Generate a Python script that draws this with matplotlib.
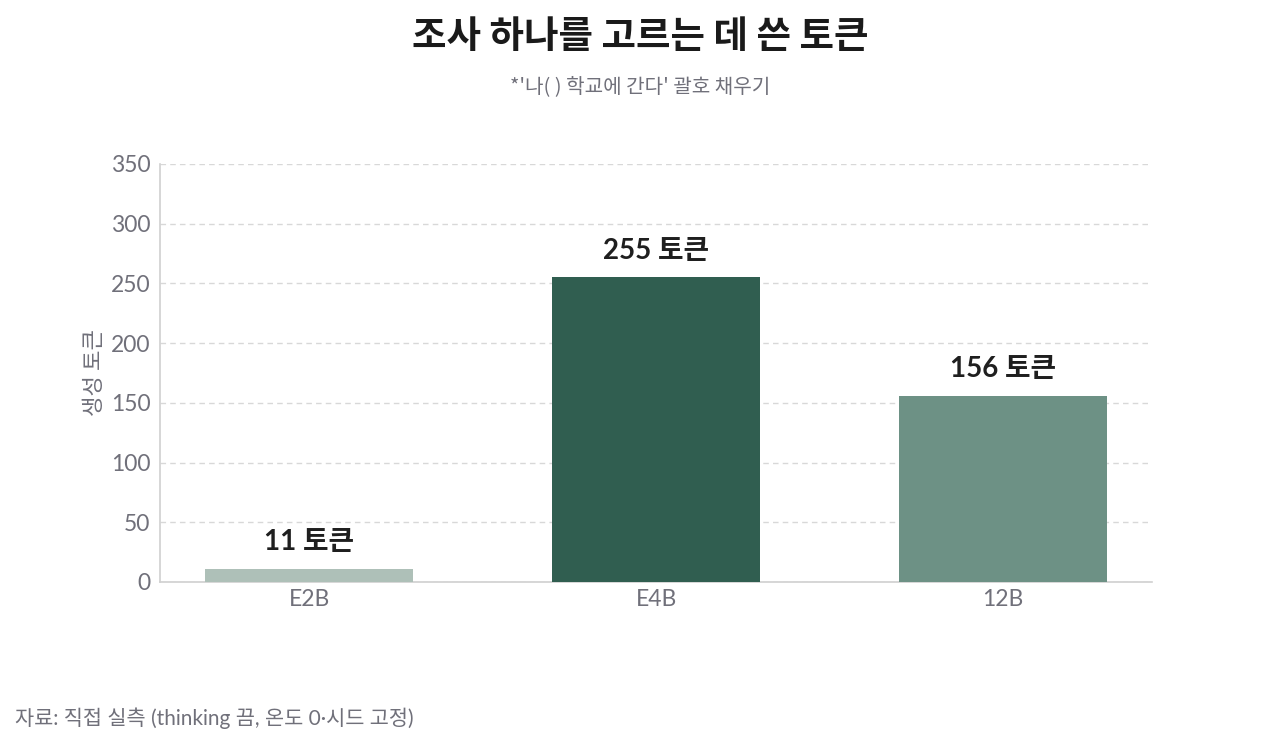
import matplotlib
matplotlib.use("Agg")
import matplotlib.pyplot as plt

plt.rcParams['font.family'] = ['Lato', 'Noto Sans CJK KR', 'DejaVu Sans']

categories = ["E2B", "E4B", "12B"]
tokens = [11, 255, 156]
bar_colors = ["#aec0b8", "#305e50", "#6d9185"]
yticks = [0, 50, 100, 150, 200, 250, 300, 350]

title = "조사 하나를 고르는 데 쓴 토큰"
subtitle = "*'나( ) 학교에 간다' 괄호 채우기"
ylabel = "생성 토큰"
source = "자료: 직접 실측 (thinking 끔, 온도 0·시드 고정)"

fig = plt.figure(figsize=(12.8, 7.47), dpi=100)
ax = fig.add_axes([0.125, 0.2209, 0.775, 0.5596])

x = list(range(len(categories)))
bars = ax.bar(x, tokens, width=0.6, color=bar_colors, zorder=3)

for xi, v in zip(x, tokens):
    ax.annotate(f"{v} 토큰", (xi, v), xytext=(0, 10), textcoords="offset points",
                ha="center", va="bottom", fontsize=20, fontweight="bold", color="#1f1f1f",
                family=['Lato', 'Noto Sans CJK KR'])

ax.set_xlim(-0.43, 2.43)
ax.set_ylim(0, 350)
ax.set_yticks(yticks)
ax.set_xticks(x)
ax.set_xticklabels(categories)
ax.tick_params(axis='both', length=0, labelsize=16.5, labelcolor="#70707a")
ax.tick_params(axis='y', pad=7)
ax.tick_params(axis='x', pad=5)
ax.grid(axis='y', color="#d8d8d8", linestyle=(0, (4, 3)), linewidth=1, zorder=0)
for s in ["top", "right"]:
    ax.spines[s].set_visible(False)
for s in ["left", "bottom"]:
    ax.spines[s].set_color("#d0d0d0")
    ax.spines[s].set_linewidth(1.2)

ax.set_ylabel(ylabel, fontsize=16, color="#70707a", labelpad=3,
              family=['Noto Sans CJK KR'], fontweight="light")

fig.text(0.5, 0.951, title, ha="center", va="center", fontsize=27, fontweight="bold",
         color="#1a1a1a", family=['Noto Sans CJK KR'])
fig.text(0.5, 0.884, subtitle, ha="center", va="center", fontsize=14.5, color="#70707a",
         family=['Noto Sans CJK KR'], fontweight="light")
fig.text(0.012, 0.039, source, ha="left", va="center", fontsize=15, color="#70707a",
         family=['Lato', 'Noto Sans CJK KR'])

fig.savefig("out.png", dpi=100, facecolor="white")
